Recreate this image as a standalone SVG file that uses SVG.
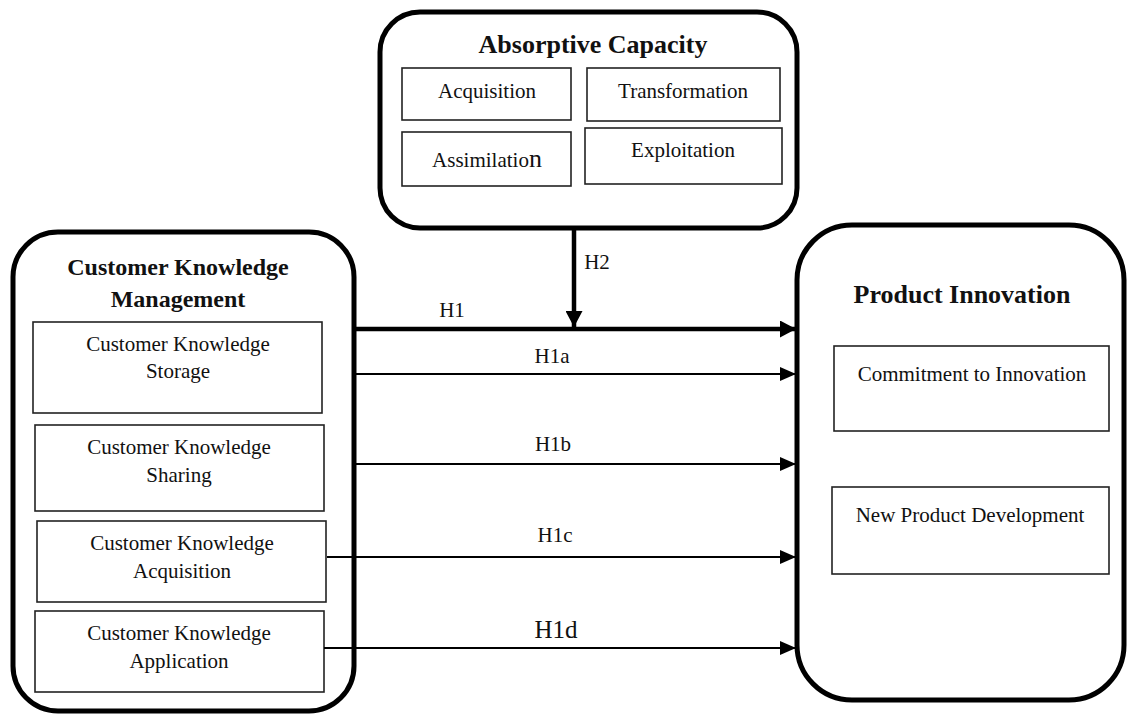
<svg xmlns="http://www.w3.org/2000/svg" width="1128" height="715" viewBox="0 0 1128 715">
<style>
.outer{fill:#fff;stroke:#000;stroke-width:5}
.inner{fill:#fff;stroke:#222;stroke-width:1.6}
.t{font-family:"Liberation Serif","Times New Roman",serif;fill:#111;text-anchor:middle}
.r{font-size:21px}
.b{font-size:26px;font-weight:bold}
.b24{font-size:24px;font-weight:bold}
.thin{stroke:#000;stroke-width:2;fill:none}
.thick{stroke:#000;stroke-width:4.5;fill:none}
</style>
<defs>
<marker id="ah" markerUnits="userSpaceOnUse" markerWidth="16" markerHeight="14" refX="16" refY="7" orient="auto">
<path d="M0,0 L16,7 L0,14 z" fill="#000"/>
</marker>
<marker id="ahb" markerUnits="userSpaceOnUse" markerWidth="16" markerHeight="17" refX="16" refY="8.5" orient="auto">
<path d="M0,0 L16,8.5 L0,17 z" fill="#000"/>
</marker>
</defs>

<g id="absorptive-capacity">
<rect class="outer" x="380" y="12" width="417" height="216" rx="40"/>
<text class="t b" x="593" y="53">Absorptive Capacity</text>
<g id="ac-acquisition"><rect class="inner" x="402" y="68" width="169" height="52"/><text class="t r" x="487" y="98">Acquisition</text></g>
<g id="ac-transformation"><rect class="inner" x="587" y="68" width="193" height="53"/><text class="t r" x="683" y="98">Transformation</text></g>
<g id="ac-assimilation"><rect class="inner" x="402" y="132" width="169" height="54"/><text class="t r" x="487" y="167">Assimilatio<tspan font-size="26">n</tspan></text></g>
<g id="ac-exploitation"><rect class="inner" x="585" y="128" width="197" height="56"/><text class="t r" x="683" y="157">Exploitation</text></g>
</g>

<g id="customer-knowledge-management">
<rect class="outer" x="13" y="232" width="341" height="479" rx="45"/>
<text class="t b24" x="178" y="275">Customer Knowledge</text>
<text class="t b24" x="178" y="307">Management</text>
<g id="ckm-storage"><rect class="inner" x="33" y="322" width="289" height="91"/><text class="t r" x="178" y="351">Customer Knowledge</text><text class="t r" x="178" y="378">Storage</text></g>
<g id="ckm-sharing"><rect class="inner" x="35" y="425" width="289" height="86"/><text class="t r" x="179" y="454">Customer Knowledge</text><text class="t r" x="179" y="482">Sharing</text></g>
<g id="ckm-acquisition"><rect class="inner" x="37" y="521" width="289" height="81"/><text class="t r" x="182" y="550">Customer Knowledge</text><text class="t r" x="182" y="578">Acquisition</text></g>
<g id="ckm-application"><rect class="inner" x="35" y="611" width="289" height="81"/><text class="t r" x="179" y="640">Customer Knowledge</text><text class="t r" x="179" y="668">Application</text></g>
</g>

<g id="product-innovation">
<rect class="outer" x="797" y="225" width="327" height="475" rx="55"/>
<text class="t b" x="962" y="303">Product Innovation</text>
<g id="pi-commitment"><rect class="inner" x="834" y="346" width="275" height="85"/><text class="t r" x="972" y="381">Commitment to Innovation</text></g>
<g id="pi-npd"><rect class="inner" x="832" y="487" width="277" height="87"/><text class="t r" x="970" y="522">New Product Development</text></g>
</g>

<g id="connectors">
<line class="thick" x1="574" y1="228" x2="574" y2="327" marker-end="url(#ahb)"/>
<line class="thick" x1="353" y1="329" x2="796" y2="329" marker-end="url(#ahb)"/>
<line class="thin" x1="355" y1="374" x2="796" y2="374" marker-end="url(#ah)"/>
<line class="thin" x1="356" y1="464" x2="796" y2="464" marker-end="url(#ah)"/>
<line class="thin" x1="327" y1="557" x2="796" y2="557" marker-end="url(#ah)"/>
<line class="thin" x1="324" y1="648" x2="796" y2="648" marker-end="url(#ah)"/>
<text class="t r" x="597" y="269">H2</text>
<text class="t r" x="452" y="317">H1</text>
<text class="t r" x="552" y="363">H1a</text>
<text class="t r" x="553" y="451">H1b</text>
<text class="t r" x="555" y="542">H1c</text>
<text class="t" style="font-size:25px" x="556" y="638">H1d</text>
</g>
</svg>
